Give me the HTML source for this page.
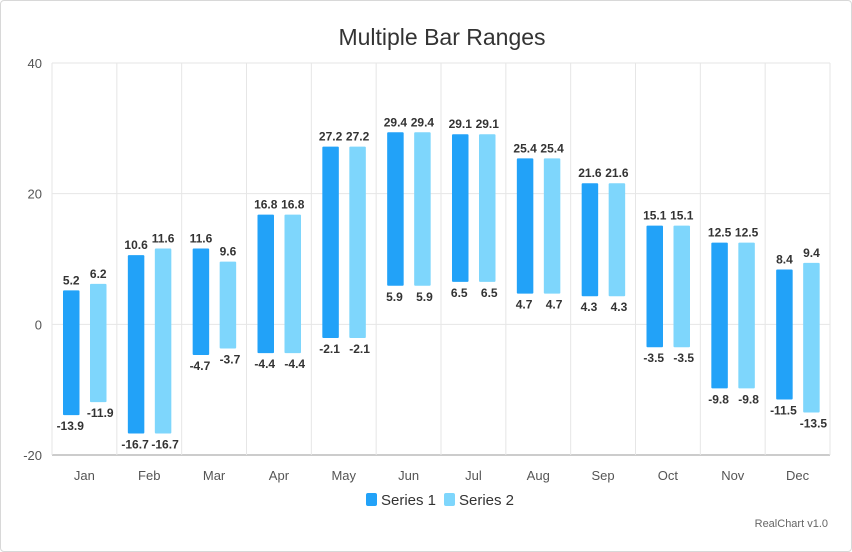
<!DOCTYPE html>
<html><head><meta charset="utf-8"><style>
body{margin:0;background:#fff;font-family:"Liberation Sans","DejaVu Sans",sans-serif}
#wrap{position:relative;width:850px;height:550px;border:1px solid #d8d8d8;border-radius:4px}
</style></head><body>
<div id="wrap">
<svg id="svg" width="852" height="552" style="position:absolute;left:-1px;top:-1px"></svg>
</div>
<script>
const categories=["Jan","Feb","Mar","Apr","May","Jun","Jul","Aug","Sep","Oct","Nov","Dec"];
const s1High=[5.2,10.6,11.6,16.8,27.2,29.4,29.1,25.4,21.6,15.1,12.5,8.4];
const s1Low=[-13.9,-16.7,-4.7,-4.4,-2.1,5.9,6.5,4.7,4.3,-3.5,-9.8,-11.5];
const s2High=[6.2,11.6,9.6,16.8,27.2,29.4,29.1,25.4,21.6,15.1,12.5,9.4];
const s2Low=[-11.9,-16.7,-3.7,-4.4,-2.1,5.9,6.5,4.7,4.3,-3.5,-9.8,-13.5];
const yTicks=[-20,0,20,40];
const NS="http://www.w3.org/2000/svg",svg=document.getElementById('svg');
const L=52,R=830,T=63,B=455,cw=(R-L)/categories.length;
const y=v=>B-(v+20)/60*(B-T);
function el(t,a,txt){const e=document.createElementNS(NS,t);for(const k in a)e.setAttribute(k,a[k]);if(txt!=null)e.textContent=txt;svg.appendChild(e);return e;}
let t=el('text',{x:442,y:45,'text-anchor':'middle','font-size':23,fill:'#333'},'Multiple Bar Ranges');


yTicks.forEach(v=>{
 let g=el('line',{x1:L,x2:R,y1:y(v),y2:y(v),stroke:v==-20?'#ccc':'#e6e6e6','stroke-width':v==-20?2:1});
 
 
 let l=el('text',{x:42,y:y(v)+5,'text-anchor':'end','font-size':13,fill:'#555'},v);
 
 
});
for(let i=0;i<=categories.length;i++){
 let g=el('line',{x1:L+i*cw,x2:L+i*cw,y1:T,y2:B,stroke:'#e6e6e6'});
 
 
}
function bar(i,hi,lo,off,color,name,lowAnchor,lowDx){
 const x=L+i*cw+off,w=16.5;
 let r=el('rect',{x:x,y:y(hi),width:w,height:y(lo)-y(hi),fill:color,rx:1});
 
 
 let a=el('text',{x:x+w/2,y:y(hi)-6,'text-anchor':'middle','font-size':12,'font-weight':'bold',fill:'#333'},hi);
 
 
 let b=el('text',{x:x+w/2+lowDx,y:y(lo)+15,'text-anchor':lowAnchor,'font-size':12,'font-weight':'bold',fill:'#333'},lo);
 
 
}
categories.forEach((c,i)=>{
 bar(i,s1High[i],s1Low[i],11,'#22a2f8','bar-series1-'+c.toLowerCase(),'middle',-1);
 bar(i,s2High[i],s2Low[i],38,'#7ed6fc','bar-series2-'+c.toLowerCase(),'middle',2);
 let l=el('text',{x:L+(i+0.5)*cw,y:480,'text-anchor':'middle','font-size':13,fill:'#555'},c);
 
 
});
[['Series 1','#22a2f8',366],['Series 2','#7ed6fc',444]].forEach(([n,c,x])=>{
 let r=el('rect',{x:x,y:493,width:11,height:13,fill:c,rx:2});
 
 
 let tx=el('text',{x:x+15,y:505,'font-size':15,fill:'#333'},n);
 
 
});
let cr=el('text',{x:828,y:527,'text-anchor':'end','font-size':11,fill:'#666'},'RealChart v1.0');


</script>
</body></html>
